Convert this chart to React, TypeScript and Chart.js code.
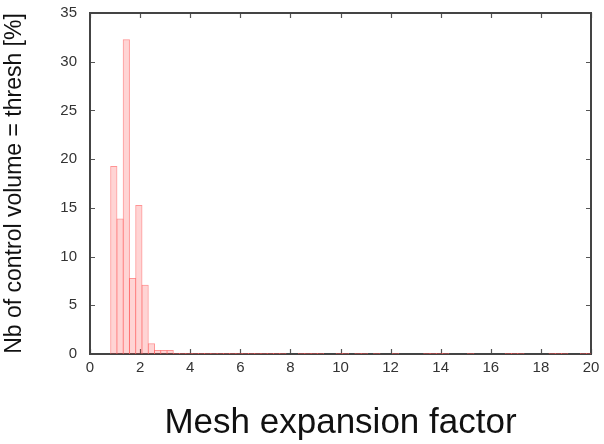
import React, { useEffect, useRef } from "react";
import { Chart, registerables } from "chart.js";

Chart.register(...registerables);

// Histogram bins (bin centres, bin width 0.25)
const mainBins = [0.95, 1.2, 1.45, 1.7, 1.95, 2.2, 2.45, 2.7, 2.95, 3.2];
const mainValues = [19.3, 13.9, 32.3, 7.8, 15.3, 7.1, 1.1, 0.4, 0.4, 0.4];

// Sparse tail of tiny bins along the baseline
const tailBins = [
  3.45, 3.7, 3.95, 4.2, 4.45, 4.7, 4.95, 5.2, 5.45, 5.7, 5.95, 6.2, 6.45, 6.7,
  6.95, 7.2, 7.45, 7.7, 8.45, 8.7, 8.95, 9.2, 9.95, 10.2, 10.7, 10.95, 11.45,
  12.2, 13.45, 13.7, 13.95, 14.2, 15.2, 16.7, 16.95, 17.2, 18.45, 18.7, 18.95,
  19.7, 19.95,
];
const tailValues = [
  0.1, 0.1, 0.1, 0.1, 0.1, 0.1, 0.1, 0.1, 0.1, 0.1, 0.1, 0.1, 0.1,
  0.1, 0.1, 0.1, 0.1, 0.1, 0.1, 0.1, 0.1, 0.1, 0.1, 0.1, 0.1, 0.1,
  0.1, 0.1, 0.1, 0.1, 0.1, 0.1, 0.1, 0.1, 0.1, 0.1, 0.1, 0.1, 0.1,
  0.1, 0.1,
];

const xTitle = "Mesh expansion factor";
const yTitle = "Nb of control volume = thresh [%]";
const xMin = 0, xMax = 20, xStep = 2;
const yMin = 0, yMax = 35, yStep = 5;

const FONT = "'Liberation Sans', Arial, Helvetica, sans-serif";

const framePlugin = {
  id: "frame",
  beforeDatasetsDraw(chart: any) {
    const { ctx, chartArea } = chart;
    const { left, right, top, bottom } = chartArea;
    const xs = chart.scales.x;
    const ys = chart.scales.y;
    ctx.save();
    ctx.strokeStyle = "#555";
    ctx.lineWidth = 1.2;
    const tl = 5;
    ctx.beginPath();
    xs.ticks.forEach((t: any) => {
      const px = Math.round(xs.getPixelForValue(t.value)) + 0.5;
      ctx.moveTo(px, bottom);
      ctx.lineTo(px, bottom - tl);
      ctx.moveTo(px, top);
      ctx.lineTo(px, top + tl);
    });
    ys.ticks.forEach((t: any) => {
      const py = Math.round(ys.getPixelForValue(t.value)) + 0.5;
      ctx.moveTo(left, py);
      ctx.lineTo(left + tl, py);
      ctx.moveTo(right, py);
      ctx.lineTo(right - tl, py);
    });
    ctx.stroke();
    ctx.strokeStyle = "#444";
    ctx.lineWidth = 2;
    ctx.strokeRect(left, top, right - left, bottom - top);
    ctx.restore();
  },
};

export default function App() {
  const ref = useRef<HTMLCanvasElement | null>(null);
  useEffect(() => {
    if (!ref.current) return;
    const data = [
      ...mainBins.map((x, i) => ({ x, y: mainValues[i] })),
      ...tailBins.map((x, i) => ({ x, y: tailValues[i] })),
    ];
    const chart = new Chart(ref.current, {
      type: "bar",
      data: {
        datasets: [
          {
            data,
            backgroundColor: "rgba(255,60,60,0.22)",
            borderColor: "rgba(255,90,90,0.65)",
            borderWidth: 1,
            barPercentage: 1.15,
            categoryPercentage: 1,
          },
        ],
      },
      options: {
        responsive: false,
        animation: false,
        layout: { padding: { top: 13, right: 13, left: 0, bottom: 0 } },
        plugins: { legend: { display: false }, tooltip: { enabled: false } },
        scales: {
          x: {
            type: "linear",
            min: xMin,
            max: xMax,
            offset: false,
            grid: { display: false, drawTicks: false },
            border: { display: false },
            ticks: {
              stepSize: xStep,
              padding: 5,
              color: "#333",
              font: { family: FONT, size: 15 },
              maxRotation: 0,
            },
            title: {
              display: true,
              text: xTitle,
              color: "#111",
              font: { family: FONT, size: 35 },
              padding: { top: 0, bottom: 0 },
            },
            afterFit(scale: any) {
              scale.height = 90;
              scale.paddingLeft = 0;
              scale.paddingRight = 0;
            },
          },
          y: {
            type: "linear",
            min: yMin,
            max: yMax,
            grid: { display: false, drawTicks: false },
            border: { display: false },
            ticks: {
              stepSize: yStep,
              padding: 13,
              color: "#333",
              font: { family: FONT, size: 15 },
            },
            title: {
              display: true,
              text: yTitle,
              color: "#111",
              font: { family: FONT, size: 23 },
              padding: { top: 1, bottom: 0 },
            },
            afterFit(scale: any) {
              scale.width = 90;
              scale.paddingTop = 0;
              scale.paddingBottom = 0;
            },
          },
        },
      },
      plugins: [framePlugin],
    });
    return () => chart.destroy();
  }, []);
  return (
    <div style={{ position: "absolute", left: 0, top: 0, width: 604, height: 444, background: "#fff" }}>
      <canvas ref={ref} width={604} height={444} />
    </div>
  );
}
